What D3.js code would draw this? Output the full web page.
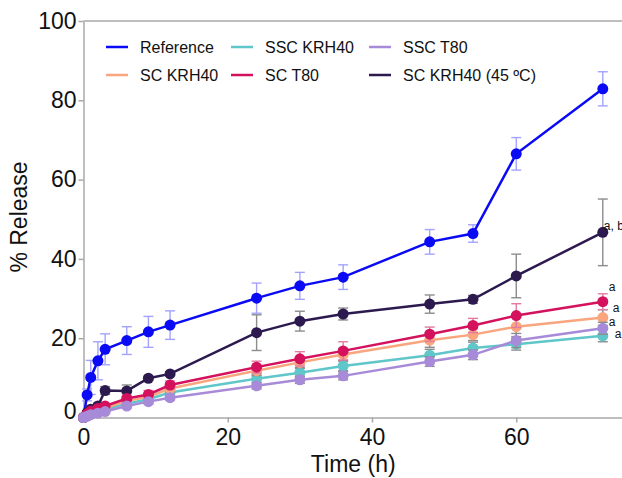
<!DOCTYPE html>
<html>
<head>
<meta charset="utf-8">
<script src="https://cdn.jsdelivr.net/npm/d3@7"></script>
<style>
	body { margin: 0; background: #fff; }
	text { font-family: Arial, "Liberation Sans", sans-serif; fill: #111; }
	.axis path, .axis line { stroke: #a8a8a8; stroke-width: 1.5; }
</style>
</head>
<body>
<svg class="chart"></svg>
<script>
// sampling times (h)
var times = [0, 0.5, 1, 2, 3, 6, 9, 12, 24, 30, 36, 48, 54, 60, 72];

// % release per formulation
var reference   = [0, 5.7, 10.1, 14.3, 17.2, 19.4, 21.6, 23.3, 30.1, 33.2, 35.4, 44.3, 46.4, 66.5, 82.9];
var sscKrh40    = [0, 0.5, 1.0, 1.5, 2.0, 3.5, 4.6, 6.3, 9.8, 11.3, 13.0, 15.7, 17.5, 18.5, 20.6];
var sscT80      = [0, 0.3, 0.7, 1.1, 1.5, 2.9, 4.0, 5.0, 8.0, 9.5, 10.5, 14.1, 15.8, 19.4, 22.5];
var scKrh40     = [0, 0.7, 1.3, 1.8, 2.4, 4.2, 5.2, 7.3, 11.8, 13.9, 15.9, 19.5, 20.9, 22.9, 25.2];
var scT80       = [0, 0.9, 1.6, 2.3, 2.9, 4.8, 5.8, 8.2, 12.7, 14.8, 16.8, 21.0, 23.2, 25.7, 29.2];
var scKrh40_45  = [0, 1.2, 2.1, 2.9, 6.8, 6.7, 9.9, 11.0, 21.4, 24.3, 26.1, 28.6, 29.8, 35.7, 46.7];

// error bars (SD)
var referenceSD  = [0, 1.5, 4.3, 4.8, 3.9, 3.5, 3.9, 3.6, 3.8, 3.4, 3.1, 3.1, 2.2, 4.1, 4.3];
var sscKrh40SD   = [0, 0.2, 0.3, 0.4, 0.4, 0.5, 0.6, 0.7, 1.0, 1.1, 1.2, 1.5, 1.5, 1.5, 1.5];
var sscT80SD     = [0, 0.2, 0.3, 0.3, 0.4, 0.5, 0.5, 0.6, 0.8, 0.9, 1.0, 1.2, 1.2, 1.8, 1.5];
var scKrh40SD    = [0, 0.3, 0.4, 0.5, 0.5, 0.7, 0.8, 0.9, 1.2, 1.3, 1.5, 1.8, 1.5, 2.5, 2.0];
var scT80SD      = [0, 0.3, 0.5, 0.5, 0.6, 0.8, 1.0, 1.0, 1.5, 1.8, 2.3, 1.8, 1.8, 3.0, 2.0];
var scKrh40_45SD = [0, 0.5, 0.6, 0.7, 1.0, 1.5, 0.5, 0.5, 4.5, 2.5, 1.5, 2.3, 1.0, 5.5, 8.4];

var seriesNames = ["Reference", "SSC KRH40", "SSC T80", "SC KRH40", "SC T80", "SC KRH40 (45 ºC)"];

// significance letters at 72 h
var annotLabels = ["a, b", "a", "a", "a", "a"];

var xTicks = [0, 20, 40, 60];
var yTicks = [0, 20, 40, 60, 80, 100];

var width = 622, height = 478;

var svg = d3.select(".chart")
	.attr("width", width)
	.attr("height", height);

var x = d3.scaleLinear()
	.domain([0, 74.8])
	.range([83.5, 623]);

var y = d3.scaleLinear()
	.domain([0, 100])
	.range([417.5, 21]);

var colors = ["#0a0af5", "#5fc6c9", "#a78bd8", "#f9a57e", "#d3115d", "#2c1a4f"];
var errColors = ["#a3a3ff", "#8c8c8c", "#8c8c8c", "#8c8c8c", "#e27aa3", "#8c8c8c"];

var values = [reference, sscKrh40, sscT80, scKrh40, scT80, scKrh40_45];
var sds = [referenceSD, sscKrh40SD, sscT80SD, scKrh40SD, scT80SD, scKrh40_45SD];

var series = seriesNames.map(function(name, i) {
	return {
		name: name,
		color: colors[i],
		errColor: errColors[i],
		points: times.map(function(t, j) { return {t: t, v: values[i][j], sd: sds[i][j]}; })
	};
});

// top frame line
svg.append("line")
	.attr("x1", x.range()[0]).attr("x2", x.range()[1])
	.attr("y1", y(100)).attr("y2", y(100))
	.attr("stroke", "#a8a8a8")
	.attr("stroke-width", 1.5);

// Add the x axis
var xAxis = svg.append("g")
	.attr("class", "x axis")
	.attr("transform", "translate(0," + y(0) + ")")
	.call(d3.axisBottom(x).tickValues(xTicks).tickSize(5).tickSizeOuter(0).tickPadding(6));
xAxis.selectAll("text")
	.style("font-size", "23px")
	.attr("fill", "#111");

// Add the y axis
var yAxis = svg.append("g")
	.attr("class", "y axis")
	.attr("transform", "translate(" + x(0) + ",0)")
	.call(d3.axisLeft(y).tickValues(yTicks).tickSize(5).tickSizeOuter(0).tickPadding(2));
yAxis.selectAll("text")
	.style("font-size", "23px")
	.attr("fill", "#111");
// the 0 label sits a little higher so it clears the x axis 0
yAxis.selectAll(".tick text")
	.filter(function(d) { return d === 0; })
	.attr("y", -6);

// axis titles
svg.append("text")
	.attr("x", (x.range()[0] + x.range()[1]) / 2)
	.attr("y", 472)
	.attr("text-anchor", "middle")
	.style("font-size", "23px")
	.text("Time (h)");

svg.append("text")
	.attr("transform", "translate(27," + 217 + ") rotate(-90)")
	.attr("text-anchor", "middle")
	.style("font-size", "23px")
	.text("% Release");

// draw order so the light series sit on top near the origin
var drawOrder = [0, 5, 1, 3, 4, 2];

var valueline = d3.line()
	.x(function(d) { return x(d.t); })
	.y(function(d) { return y(d.v); });

drawOrder.forEach(function(i) {
	var s = series[i];
	var g = svg.append("g").attr("class", "series");

	// error bars
	var eb = g.selectAll(".err")
		.data(s.points.filter(function(d) { return d.sd > 0; }))
	  .enter().append("g")
		.attr("class", "err")
		.attr("stroke", s.errColor)
		.attr("stroke-width", 1.4);
	eb.append("line")
		.attr("x1", function(d) { return x(d.t); })
		.attr("x2", function(d) { return x(d.t); })
		.attr("y1", function(d) { return y(d.v - d.sd); })
		.attr("y2", function(d) { return y(d.v + d.sd); });
	eb.append("line")
		.attr("x1", function(d) { return x(d.t) - 5; })
		.attr("x2", function(d) { return x(d.t) + 5; })
		.attr("y1", function(d) { return y(d.v + d.sd); })
		.attr("y2", function(d) { return y(d.v + d.sd); });
	eb.append("line")
		.attr("x1", function(d) { return x(d.t) - 5; })
		.attr("x2", function(d) { return x(d.t) + 5; })
		.attr("y1", function(d) { return y(d.v - d.sd); })
		.attr("y2", function(d) { return y(d.v - d.sd); });

	// Draw line
	g.append("path")
		.datum(s.points)
		.attr("fill", "none")
		.attr("stroke", s.color)
		.attr("stroke-width", 2.5)
		.attr("d", valueline);

	// Draw dots
	g.selectAll(".dot")
		.data(s.points)
	  .enter().append("circle")
		.attr("class", "dot")
		.attr("cx", function(d) { return x(d.t); })
		.attr("cy", function(d) { return y(d.v); })
		.attr("r", 5.5)
		.attr("fill", s.color);
});

// significance letters, placed next to the 72 h points
var annotSeries = [5, 4, 3, 2, 1];
var annotOffsets = [[1, -7], [6, -15], [10, -10], [6, -6], [12, -2]];
annotSeries.forEach(function(si, k) {
	var last = series[si].points[series[si].points.length - 1];
	svg.append("text")
		.attr("x", x(last.t) + annotOffsets[k][0])
		.attr("y", y(last.v) + annotOffsets[k][1])
		.attr("dy", "0.35em")
		.style("font-size", "12px")
		.text(annotLabels[k]);
});

// legend, two rows of three
var legend = svg.append("g").attr("class", "legend");
var legCols = [106, 231, 369];
var legRows = [47, 75];
series.forEach(function(s, i) {
	var lx = legCols[i % 3], ly = legRows[Math.floor(i / 3)];
	legend.append("line")
		.attr("x1", lx).attr("x2", lx + 22)
		.attr("y1", ly).attr("y2", ly)
		.attr("stroke", s.color)
		.attr("stroke-width", 2.5);
	legend.append("text")
		.attr("x", lx + 34)
		.attr("y", ly)
		.attr("dy", "0.35em")
		.style("font-size", "16px")
		.text(s.name);
});
</script>
</body>
</html>
